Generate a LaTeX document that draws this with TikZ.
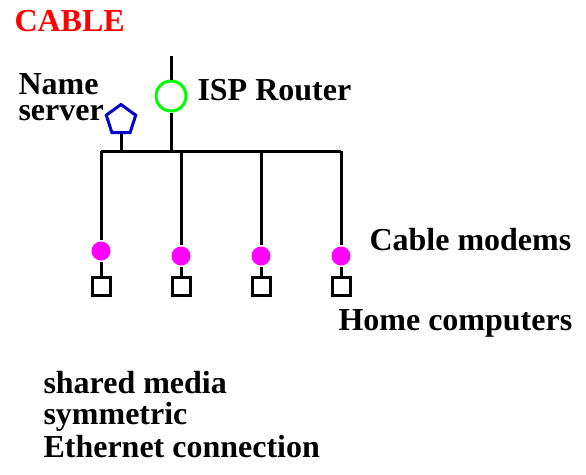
\documentclass[tikz,border=0pt]{standalone}
\usepackage{fontspec}
\setmainfont{Liberation Serif}
\usetikzlibrary{shapes.geometric}
\usetikzlibrary{positioning}
\definecolor{cablered}{RGB}{255,0,0}
\definecolor{routergreen}{RGB}{0,255,0}
\definecolor{serverblue}{RGB}{0,0,204}
\definecolor{modempink}{RGB}{255,0,255}

\begin{document}
\begin{tikzpicture}[x=1pt,y=-1pt,line width=3pt,
lbl/.style={anchor=base west,inner sep=0pt,font=\fontsize{32}{26}\selectfont\bfseries},
modem/.style={circle,fill=modempink,inner sep=0pt,minimum size=19pt},
pc/.style={draw=black,rectangle,inner sep=0pt,minimum size=18pt,line width=3pt}]
\useasboundingbox(0,0)rectangle(586,474);
\node[lbl,cablered](CABLE)at(13,31){CABLE};
%% router and name server
\coordinate(TOP)at(171,56);
\node[draw=routergreen,circle,line width=3pt,inner sep=0pt,minimum size=30pt](R)at(171,96){};
\node[lbl](RL)at(196,100){ISP Router};
\node[draw=serverblue,regular polygon,regular polygon sides=5,line width=3pt,
inner sep=0pt,minimum size=31pt](NS)at(121,120){};
\node[lbl,align=left](NSL)at(17,120){Name\\server};
%% bus
\coordinate(B0)at(101,151);
\coordinate(BN)at(121,151);
\coordinate(BR)at(171,151);
\coordinate(B4)at(341,151);
\draw(TOP)--(R);
\draw(R)--(BR);
\draw(NS)--(BN);
\draw(B0)--(B4);
%% modems and home computers
\node[modem](M1)at(101,251){};
\node[modem](M2)at(181,256){};
\node[modem](M3)at(261,256){};
\node[modem](M4)at(341,256){};
\foreach \i/\x in {1/101,2/181,3/261,4/341}{
\node[pc](H\i)at(\x,286.5){};
\draw(\x,151)--(M\i.north);
\draw(M\i)--(H\i);
}
\node[lbl](ML)at(368,250){Cable modems};
\node[lbl](HL)at(337,330){Home computers};
%%
\node[lbl](T1)at(42,393){shared media};
\node[lbl](T2)at(42,424){symmetric};
\node[lbl](T3)at(42,457){Ethernet connection};
\end{tikzpicture}
\end{document}
